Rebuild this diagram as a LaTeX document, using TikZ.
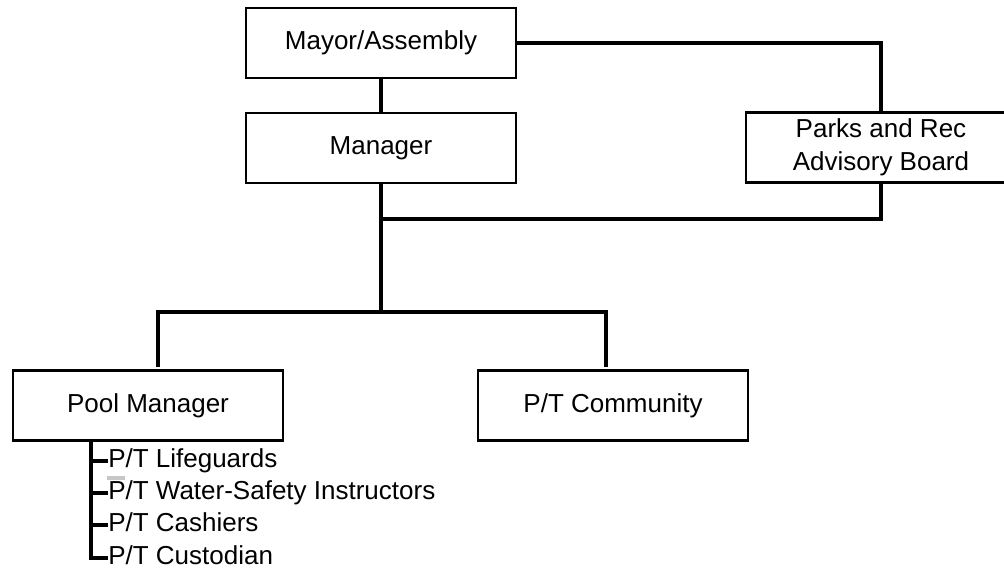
\documentclass[tikz,border=0pt]{standalone}
\usepackage{fontspec}
\setmainfont{Liberation Sans}
\begin{document}
\begin{tikzpicture}[x=0.75pt,y=-0.75pt,
  box/.style={draw,line width=1.9pt,minimum width=202.5pt,minimum height=52.5pt,inner sep=0pt,align=center,font=\fontsize{19.5pt}{23.5pt}\selectfont},
  conn/.style={line width=2.4pt},
  item/.style={anchor=base west,inner sep=0pt,font=\fontsize{19.5pt}{23.5pt}\selectfont}]
\path[use as bounding box] (0,0) rectangle (1004,573);
\clip (0,0) rectangle (1004,573);
\node[box] (mayor) at (381,43) {Mayor/Assembly};
\node[box] (manager) at (381,148) {Manager};
\node[box,font=\fontsize{19.5pt}{25pt}\selectfont] (parks) at (881,147.5) {Parks and Rec\\Advisory Board};
\node[box] (pool) at (148,405.5) {Pool Manager};
\node[box] (ptc) at (613,405.5) {P/T Community};
\coordinate (j1) at (381,219);
\coordinate (j2) at (381,312);
\coordinate (bl) at (158,312);
\coordinate (br) at (606,312);
\coordinate (pl) at (158,367);
\coordinate (pr) at (606,367);
\draw[conn] (mayor) -- (manager);
\draw[conn] (mayor.east) -| (parks.north);
\draw[conn] (parks.south) |- (j1);
\draw[conn] (manager.south) -- (j2);
\draw[conn] (pl) -- (bl) -- (br) -- (pr);
\node[item] (l1) at (108,468) {P/T Lifeguards};
\node[item] (l2) at (108,500) {P/T Water-Safety Instructors};
\node[item] (l3) at (108,532) {P/T Cashiers};
\node[item] (l4) at (108,565) {P/T Custodian};
\coordinate (lt) at (91,440);
\coordinate (t1) at (91,461);
\coordinate (t2) at (91,493);
\coordinate (t3) at (91,525);
\coordinate (t4) at (91,558);
\draw[conn] (lt) -- (t4) -- (t4 -| l4.west);
\draw[conn] (t1) -- (t1 -| l1.west);
\draw[conn] (t2) -- (t2 -| l2.west);
\draw[conn] (t3) -- (t3 -| l3.west);
\draw[gray!45,line width=2.5pt] (107,478) -- (125,478);
\end{tikzpicture}
\end{document}
